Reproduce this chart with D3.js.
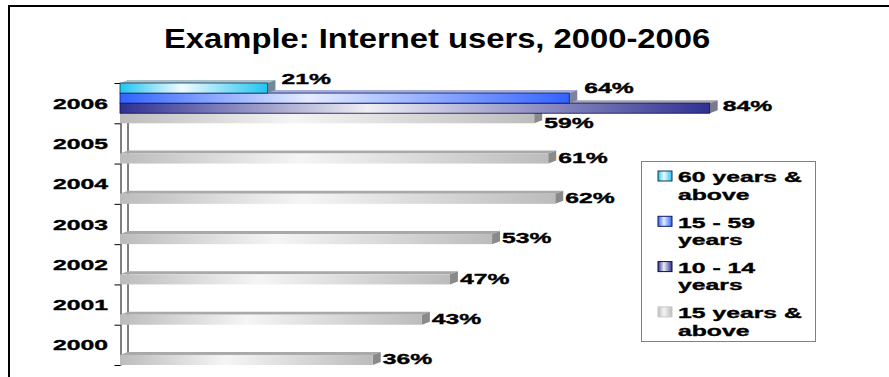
<!DOCTYPE html>
<html>
<head>
<meta charset="utf-8">
<script src="https://cdn.jsdelivr.net/npm/d3@7"></script>
<style>
body { margin: 0; background: #fff; }
text { font-family: "Liberation Sans", Arial, sans-serif; font-weight: bold; fill: #000; }
text.small { stroke: #000; stroke-width: 0.35px; }
</style>
</head>
<body>
<div id="canvas"></div>
<script>
// chart data
var years = ["2006", "2005", "2004", "2003", "2002", "2001", "2000"];
var seriesNames = ["60 years & above", "15 - 59 years", "10 - 14 years", "15 years & above"];
var s60plus = [21, null, null, null, null, null, null];
var s15to59 = [64, null, null, null, null, null, null];
var s10to14 = [84, null, null, null, null, null, null];
var s15plus = [59, 61, 62, 53, 47, 43, 36];
var legendLines = [["60 years &", "above"], ["15 - 59", "years"], ["10 - 14", "years"], ["15 years &", "above"]];
var titleText = "Example: Internet users, 2000-2006";

var seriesValues = [s60plus, s15to59, s10to14, s15plus];

// look of each series (base colour, highlight, faces)
var looks = [
	{ base: "#22c4f0", light: "#f0fbff", top: "#a8c3cc", side: "#6f8a96", edge: "#16365a" },
	{ base: "#3263ff", light: "#e6ecff", top: "#a4aed8", side: "#7c82a0", edge: "#0a1a66" },
	{ base: "#2f3192", light: "#eeeef4", top: "#a3a3b4", side: "#7a7a8c", edge: "#0d0d40" },
	{ base: "#bcbcbc", light: "#f5f5f5", top: "#a9a9a9", side: "#8a8a8a", edge: "none" }
];

// label shifts for the crowded 2006 group (dx from bar end, dy from bar centre)
var labelShift = {
	"2006|0": [14, -9], "2006|1": [15, -10.5], "2006|2": [13, -2.5], "2006|3": [10, 4.5]
};

var W = 889, H = 377;
var stretch = 1.65; // small text is drawn wide
var depthX = 8, depthY = 3; // 3d offset of the bars

var svg = d3.select('#canvas').append('svg')
	.attr('width', W) //setting width
	.attr('height', H); //setting height

var defs = svg.append('defs');
looks.forEach(function (lk, i) {
	var g = defs.append('linearGradient').attr('id', 'grad' + i)
		.attr('x1', 0).attr('x2', 1).attr('y1', 0).attr('y2', 0);
	g.append('stop').attr('offset', '0%').attr('stop-color', lk.base);
	g.append('stop').attr('offset', '42%').attr('stop-color', lk.light);
	g.append('stop').attr('offset', '100%').attr('stop-color', lk.base);
});

// frame
svg.append('rect')
	.attr('x', 9).attr('y', 6)
	.attr('width', W + 20).attr('height', H + 20)
	.attr('fill', 'none').attr('stroke', '#000').attr('stroke-width', 2);

// title
svg.append('text')
	.attr('transform', 'translate(164,48.3) scale(1.17,1)')
	.style('font-size', '28px')
	.text(titleText);

// scales
var x = d3.scaleLinear().domain([0, 100]).range([120, 822]);
var y = d3.scaleBand().domain(years).range([83, 365]).padding(0);
var ySub = d3.scaleBand().domain(d3.range(seriesNames.length)).range([0, y.bandwidth()]);
var yEdge = d3.scaleLinear().domain([0, years.length]).range([83, 365]);

// back wall line
svg.append('line')
	.attr('x1', 120 + depthX).attr('x2', 120 + depthX)
	.attr('y1', 83 - depthY).attr('y2', 365 - depthY)
	.attr('stroke', '#000').attr('stroke-width', 1);

// axis with ticks between the categories
var axis = svg.append('g')
	.attr('transform', 'translate(120.5,0)')
	.call(d3.axisLeft(yEdge).ticks(years.length).tickSize(6).tickSizeOuter(0).tickFormat(''));
axis.select('.domain').attr('stroke', '#000');
axis.selectAll('.tick line').attr('stroke', '#000');

// year labels
svg.selectAll('text.year').data(years)
	.enter().append('text')
	.attr('class', 'year small')
	.attr('text-anchor', 'end')
	.attr('transform', function (d) {
		return 'translate(108,' + (y(d) + y.bandwidth() / 2 + 5.5) + ') scale(' + stretch + ',1)';
	})
	.style('font-size', '15px')
	.text(function (d) { return d; });

// flatten bars, lower series first so upper ones cover their top faces
var bars = [];
years.forEach(function (yr, ci) {
	for (var si = seriesValues.length - 1; si >= 0; si--) {
		var v = seriesValues[si][ci];
		if (v === null) continue;
		bars.push({ year: yr, s: si, v: v });
	}
});
bars.sort(function (a, b) { return (years.indexOf(b.year) - years.indexOf(a.year)) || (b.s - a.s); });

var barG = svg.selectAll('g.bar').data(bars)
	.enter().append('g').attr('class', 'bar');

function barTop(d) { return y(d.year) + ySub(d.s); }

// top face
barG.append('path')
	.attr('d', function (d) {
		var x0 = x(0), x1 = x(d.v), t = barTop(d);
		return 'M' + x0 + ',' + t + 'L' + (x0 + depthX) + ',' + (t - depthY) +
			'L' + (x1 + depthX) + ',' + (t - depthY) + 'L' + x1 + ',' + t + 'Z';
	})
	.attr('fill', function (d) { return looks[d.s].top; });

// right face
barG.append('path')
	.attr('d', function (d) {
		var x1 = x(d.v), t = barTop(d), b = t + ySub.bandwidth();
		return 'M' + x1 + ',' + t + 'L' + (x1 + depthX) + ',' + (t - depthY) +
			'L' + (x1 + depthX) + ',' + (b - depthY) + 'L' + x1 + ',' + b + 'Z';
	})
	.attr('fill', function (d) { return looks[d.s].side; });

// front face
barG.append('rect')
	.attr('x', x(0))
	.attr('y', barTop)
	.attr('width', function (d) { return x(d.v) - x(0); })
	.attr('height', ySub.bandwidth())
	.attr('fill', function (d) { return 'url(#grad' + d.s + ')'; })
	.attr('stroke', function (d) { return looks[d.s].edge; })
	.attr('stroke-width', 0.8);

// value labels
svg.selectAll('text.val').data(bars)
	.enter().append('text')
	.attr('class', 'val small')
	.attr('transform', function (d) {
		var sh = labelShift[d.year + '|' + d.s] || [10, -1];
		var cy = barTop(d) + ySub.bandwidth() / 2 + sh[1];
		return 'translate(' + (x(d.v) + sh[0]) + ',' + (cy + 5.3) + ') scale(' + stretch + ',1)';
	})
	.style('font-size', '15px')
	.text(function (d) { return d.v + '%'; });

// legend
var legend = svg.append('g');
legend.append('rect')
	.attr('x', 641.5).attr('y', 161.5)
	.attr('width', 174).attr('height', 180)
	.attr('fill', '#fff').attr('stroke', '#808080').attr('stroke-width', 1);

var item = legend.selectAll('g.item').data(seriesNames)
	.enter().append('g').attr('class', 'item')
	.attr('transform', function (d, i) { return 'translate(0,' + (i * 45.3) + ')'; });

item.append('rect')
	.attr('x', 658).attr('y', 171)
	.attr('width', 14).attr('height', 10)
	.attr('fill', function (d, i) { return 'url(#grad' + i + ')'; })
	.attr('stroke', function (d, i) { return i === 3 ? '#c8c8c8' : looks[i].edge; })
	.attr('stroke-width', 1);

item.selectAll('text').data(function (d, i) { return legendLines[i]; })
	.enter().append('text')
	.attr('class', 'small')
	.attr('transform', function (d, j) { return 'translate(678,' + (182.3 + j * 17.5) + ') scale(' + stretch + ',1)'; })
	.style('font-size', '15px')
	.text(function (d) { return d; });
</script>
</body>
</html>
